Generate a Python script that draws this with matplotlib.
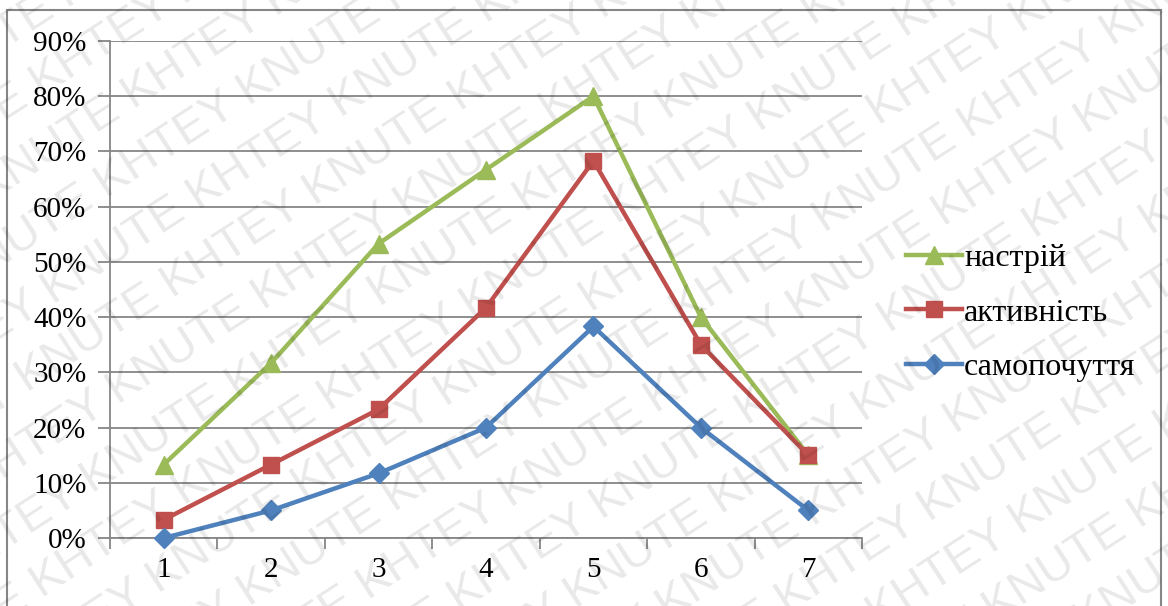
import numpy as np
import matplotlib.pyplot as plt
from matplotlib.patches import Rectangle
from matplotlib.ticker import FuncFormatter, FixedLocator

# Дані по етапах (частка, %)
etapy = [1, 2, 3, 4, 5, 6, 7]
nastrij = [13.3, 31.7, 53.3, 66.7, 80.0, 40.0, 15.0]
aktyvnist = [3.3, 13.3, 23.3, 41.7, 68.3, 35.0, 15.0]
samopochuttia = [0.0, 5.0, 11.7, 20.0, 38.3, 20.0, 5.0]

plt.rcParams['font.family'] = ['Liberation Serif', 'DejaVu Serif']

fig = plt.figure(figsize=(11.68, 6.06), dpi=100)
ax = fig.add_axes([110/1168, 1 - 538/606, 752/1168, 497/606])

x = np.arange(len(etapy))
ax.plot(x, nastrij, color='#9BBB59', lw=3.2, marker='^', ms=13, label='настрій', zorder=3, clip_on=False)
ax.plot(x, aktyvnist, color='#C0504D', lw=3.2, marker='s', ms=12, label='активність', zorder=3, clip_on=False)
ax.plot(x, samopochuttia, color='#4F81BD', lw=3.2, marker='D', ms=10, label='самопочуття', zorder=3, clip_on=False)

ax.set_xlim(-0.5, len(etapy) - 0.5)
ax.set_ylim(0, 90)
ax.set_yticks(np.arange(0, 91, 10))
ax.yaxis.set_major_formatter(FuncFormatter(lambda v, p: f'{v:.0f}%'))
ax.set_xticks(x)
ax.set_xticklabels([str(e) for e in etapy])
ax.xaxis.set_minor_locator(FixedLocator(np.arange(-0.5, len(etapy), 1)))
ax.tick_params(axis='x', which='major', length=0, pad=14, labelsize=21)
ax.tick_params(axis='x', which='minor', length=8, color='#868686', width=1.3)
ax.tick_params(axis='y', length=9, color='#868686', width=1.3, pad=8, labelsize=21)
ax.grid(axis='y', color='#868686', lw=1.3)
for s in ['top', 'right']:
    ax.spines[s].set_visible(False)
for s in ['left', 'bottom']:
    ax.spines[s].set_color('#868686')
    ax.spines[s].set_linewidth(1.3)

ax.legend(loc='center left', bbox_to_anchor=(1.02, 0.453), frameon=False,
          prop={'family': 'Liberation Serif', 'size': 23},
          handlelength=1.75, handletextpad=0.08, labelspacing=0.78)

# рамка навколо діаграми
fig.patches.append(Rectangle((7/1168, -0.05), 1154/1168, 1.05 - 10/606,
                             transform=fig.transFigure, fill=False,
                             edgecolor='#868686', lw=1.5))

# водяний знак
ang = 33
step = 60
d = np.array([np.cos(np.radians(ang)), np.sin(np.radians(ang))])
n = np.array([-d[1], d[0]])
row = 'KHTEY KNUTE ' * 6
for k in range(-12, 14):
    cx, cy = np.array([584, 303]) + n * k * step + d * ((k % 2) * 70)
    fig.text(cx / 1168, cy / 606, row, rotation=ang, rotation_mode='anchor',
             ha='center', va='center', fontsize=34, family='Liberation Sans',
             color='black', alpha=0.09, zorder=5)

fig.savefig('out.png', dpi=100)
